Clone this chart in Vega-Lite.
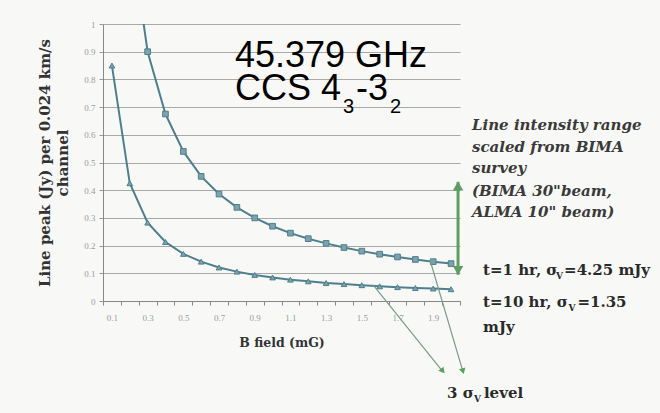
{
  "$schema": "https://vega.github.io/schema/vega-lite/v6.json",
  "width": 357,
  "height": 277,
  "autosize": {"type": "none"},
  "padding": {"left": 103, "top": 24, "right": 200, "bottom": 112},
  "background": "#f8f9f7",
  "config": {"view": {"stroke": null}},
  "datasets": {
    "peaks": [
      {"B": "0.1", "series": "t1", "peak": 2.7},
      {"B": "0.2", "series": "t1", "peak": 1.35},
      {"B": "0.3", "series": "t1", "peak": 0.9},
      {"B": "0.4", "series": "t1", "peak": 0.675},
      {"B": "0.5", "series": "t1", "peak": 0.54},
      {"B": "0.6", "series": "t1", "peak": 0.45},
      {"B": "0.7", "series": "t1", "peak": 0.386},
      {"B": "0.8", "series": "t1", "peak": 0.338},
      {"B": "0.9", "series": "t1", "peak": 0.3},
      {"B": "1.0", "series": "t1", "peak": 0.27},
      {"B": "1.1", "series": "t1", "peak": 0.245},
      {"B": "1.2", "series": "t1", "peak": 0.225},
      {"B": "1.3", "series": "t1", "peak": 0.208},
      {"B": "1.4", "series": "t1", "peak": 0.193},
      {"B": "1.5", "series": "t1", "peak": 0.18},
      {"B": "1.6", "series": "t1", "peak": 0.169},
      {"B": "1.7", "series": "t1", "peak": 0.159},
      {"B": "1.8", "series": "t1", "peak": 0.15},
      {"B": "1.9", "series": "t1", "peak": 0.142},
      {"B": "2.0", "series": "t1", "peak": 0.135},
      {"B": "0.1", "series": "t10", "peak": 0.85},
      {"B": "0.2", "series": "t10", "peak": 0.425},
      {"B": "0.3", "series": "t10", "peak": 0.283},
      {"B": "0.4", "series": "t10", "peak": 0.213},
      {"B": "0.5", "series": "t10", "peak": 0.17},
      {"B": "0.6", "series": "t10", "peak": 0.142},
      {"B": "0.7", "series": "t10", "peak": 0.121},
      {"B": "0.8", "series": "t10", "peak": 0.106},
      {"B": "0.9", "series": "t10", "peak": 0.094},
      {"B": "1.0", "series": "t10", "peak": 0.085},
      {"B": "1.1", "series": "t10", "peak": 0.077},
      {"B": "1.2", "series": "t10", "peak": 0.071},
      {"B": "1.3", "series": "t10", "peak": 0.065},
      {"B": "1.4", "series": "t10", "peak": 0.061},
      {"B": "1.5", "series": "t10", "peak": 0.057},
      {"B": "1.6", "series": "t10", "peak": 0.053},
      {"B": "1.7", "series": "t10", "peak": 0.05},
      {"B": "1.8", "series": "t10", "peak": 0.047},
      {"B": "1.9", "series": "t10", "peak": 0.045},
      {"B": "2.0", "series": "t10", "peak": 0.0425}
    ],
    "range": [{"x": 2.039, "y": 0.43, "y2": 0.095}],
    "rangeheads": [
      {"x": 2.039, "y": 0.415, "end": "top"},
      {"x": 2.039, "y": 0.11, "end": "bottom"}
    ],
    "diag": [
      {"x": 1.563, "y": 0.058, "x2": 1.955, "y2": -0.256},
      {"x": 1.882, "y": 0.148, "x2": 2.067, "y2": -0.256}
    ],
    "head1": [{"x": 1.95, "y": -0.25}],
    "head2": [{"x": 2.065, "y": -0.25}],
    "big": [
      {"x": 0.7895, "y": 0.8448, "text": "45.379 GHz"},
      {"x": 0.7895, "y": 0.7256, "text": "CCS 4"},
      {"x": 1.467, "y": 0.7256, "text": "-3"}
    ],
    "bigsub": [
      {"x": 1.395, "y": 0.6787, "text": "3"},
      {"x": 1.658, "y": 0.6787, "text": "2"}
    ],
    "italic": [
      {"x": 2.117, "y": 0.635, "text": "Line intensity range"},
      {"x": 2.117, "y": 0.556, "text": "scaled from BIMA"},
      {"x": 2.117, "y": 0.48, "text": "survey"},
      {"x": 2.117, "y": 0.397, "text": "(BIMA 30\"beam,"},
      {"x": 2.117, "y": 0.321, "text": "ALMA 10\" beam)"}
    ],
    "bold": [
      {"x": 2.179, "y": 0.112, "text": "t=1 hr, σ"},
      {"x": 2.633, "y": 0.112, "text": "=4.25 mJy"},
      {"x": 2.179, "y": -0.0036, "text": "t=10 hr, σ"},
      {"x": 2.708, "y": -0.0036, "text": "=1.35"},
      {"x": 2.179, "y": -0.094, "text": "mJy"},
      {"x": 1.977, "y": -0.332, "text": "3 σ"},
      {"x": 2.184, "y": -0.332, "text": "level"}
    ],
    "subv": [
      {"x": 2.588, "y": 0.09, "text": "V"},
      {"x": 2.658, "y": -0.025, "text": "V"},
      {"x": 2.128, "y": -0.354, "text": "V"}
    ]
  },
  "layer": [
    {
      "encoding": {
        "x": {
          "field": "B", "type": "ordinal", "sort": null, "bandPosition": 0.5,
          "scale": {"type": "band", "paddingInner": 0, "paddingOuter": 0},
          "axis": {
            "title": "B field (mG)",
            "titleFont": "DejaVu Serif", "titleFontSize": 12.5, "titleFontWeight": "bold", "titleColor": "#333333",
            "titlePadding": 14,
            "labelAngle": 0,
            "labelExpr": "indexof(['0.1','0.3','0.5','0.7','0.9','1.1','1.3','1.5','1.7','1.9'], datum.label) >= 0 ? datum.label : ''",
            "labelFont": "Liberation Serif", "labelFontSize": 9, "labelColor": "#999999", "labelPadding": 8,
            "tickBand": "extent", "tickSize": 4, "tickColor": "#888888",
            "domainColor": "#888888", "grid": false
          }
        },
        "y": {
          "field": "peak", "type": "quantitative",
          "scale": {"domain": [0, 1], "nice": false, "zero": true},
          "axis": {
            "title": ["Line peak (Jy) per 0.024 km/s", "channel"],
            "titleFont": "DejaVu Serif", "titleFontSize": 15, "titleFontWeight": "bold", "titleColor": "#333333",
            "titleLineHeight": 18, "titlePadding": 13,
            "values": [0, 0.1, 0.2, 0.3, 0.4, 0.5, 0.6, 0.7, 0.8, 0.9, 1],
            "labelOverlap": false,
            "format": ".1~f",
            "labelFont": "Liberation Serif", "labelFontSize": 9, "labelColor": "#999999", "labelPadding": 4,
            "tickSize": 4, "tickColor": "#999999",
            "domainColor": "#888888",
            "grid": true, "gridColor": "#a8a8a8", "gridWidth": 1.2
          }
        }
      },
      "layer": [
        {
          "data": {"name": "peaks"},
          "mark": {"type": "line", "clip": true, "color": "#4e7f8c", "strokeWidth": 2},
          "encoding": {"detail": {"field": "series"}}
        },
        {
          "data": {"name": "peaks"},
          "mark": {"type": "point", "clip": true, "filled": true, "fill": "#7da2ac", "stroke": "#4e7f8c", "strokeWidth": 1, "opacity": 1, "size": 32},
          "encoding": {
            "shape": {"field": "series", "type": "nominal", "scale": {"domain": ["t1", "t10"], "range": ["square", "triangle-up"]}, "legend": null}
          }
        }
      ]
    },
    {
      "encoding": {
        "x": {"field": "x", "type": "quantitative", "scale": {"domain": [0.05, 2.05], "nice": false, "zero": false}, "axis": null},
        "y": {"field": "y", "type": "quantitative", "scale": {"domain": [0, 1], "nice": false}, "axis": null}
      },
      "layer": [
        {
          "data": {"name": "range"},
          "mark": {"type": "rule", "color": "#5f9e63", "strokeWidth": 3},
          "encoding": {"y2": {"field": "y2"}}
        },
        {
          "data": {"name": "rangeheads"},
          "mark": {"type": "point", "filled": true, "color": "#5f9e63", "opacity": 1, "size": 110},
          "encoding": {
            "shape": {"field": "end", "type": "nominal", "scale": {"domain": ["top", "bottom"], "range": ["triangle-up", "triangle-down"]}, "legend": null}
          }
        },
        {
          "data": {"name": "diag"},
          "mark": {"type": "rule", "color": "#7b9a86", "strokeWidth": 1.2},
          "encoding": {"x2": {"field": "x2"}, "y2": {"field": "y2"}}
        },
        {
          "data": {"name": "head1"},
          "mark": {"type": "point", "shape": "triangle", "angle": 141, "filled": true, "color": "#5f9e63", "opacity": 1, "size": 45},
          "encoding": {}
        },
        {
          "data": {"name": "head2"},
          "mark": {"type": "point", "shape": "triangle", "angle": 164, "filled": true, "color": "#5f9e63", "opacity": 1, "size": 45},
          "encoding": {}
        },
        {
          "data": {"name": "big"},
          "mark": {"type": "text", "align": "left", "baseline": "alphabetic", "font": "Liberation Sans", "fontSize": 36, "color": "#000000"},
          "encoding": {"text": {"field": "text"}}
        },
        {
          "data": {"name": "bigsub"},
          "mark": {"type": "text", "align": "left", "baseline": "alphabetic", "font": "Liberation Sans", "fontSize": 20, "color": "#000000"},
          "encoding": {"text": {"field": "text"}}
        },
        {
          "data": {"name": "italic"},
          "mark": {"type": "text", "align": "left", "baseline": "middle", "font": "DejaVu Serif", "fontSize": 15, "fontStyle": "italic", "fontWeight": "bold", "color": "#3a3a3a"},
          "encoding": {"text": {"field": "text"}}
        },
        {
          "data": {"name": "bold"},
          "mark": {"type": "text", "align": "left", "baseline": "middle", "font": "DejaVu Serif", "fontSize": 15, "fontWeight": "bold", "color": "#2a2a2a"},
          "encoding": {"text": {"field": "text"}}
        },
        {
          "data": {"name": "subv"},
          "mark": {"type": "text", "align": "left", "baseline": "middle", "font": "DejaVu Serif", "fontSize": 9, "fontWeight": "bold", "color": "#2a2a2a"},
          "encoding": {"text": {"field": "text"}}
        }
      ]
    }
  ],
  "resolve": {"scale": {"x": "independent", "y": "independent", "shape": "independent"}, "axis": {"x": "independent", "y": "independent"}}
}
